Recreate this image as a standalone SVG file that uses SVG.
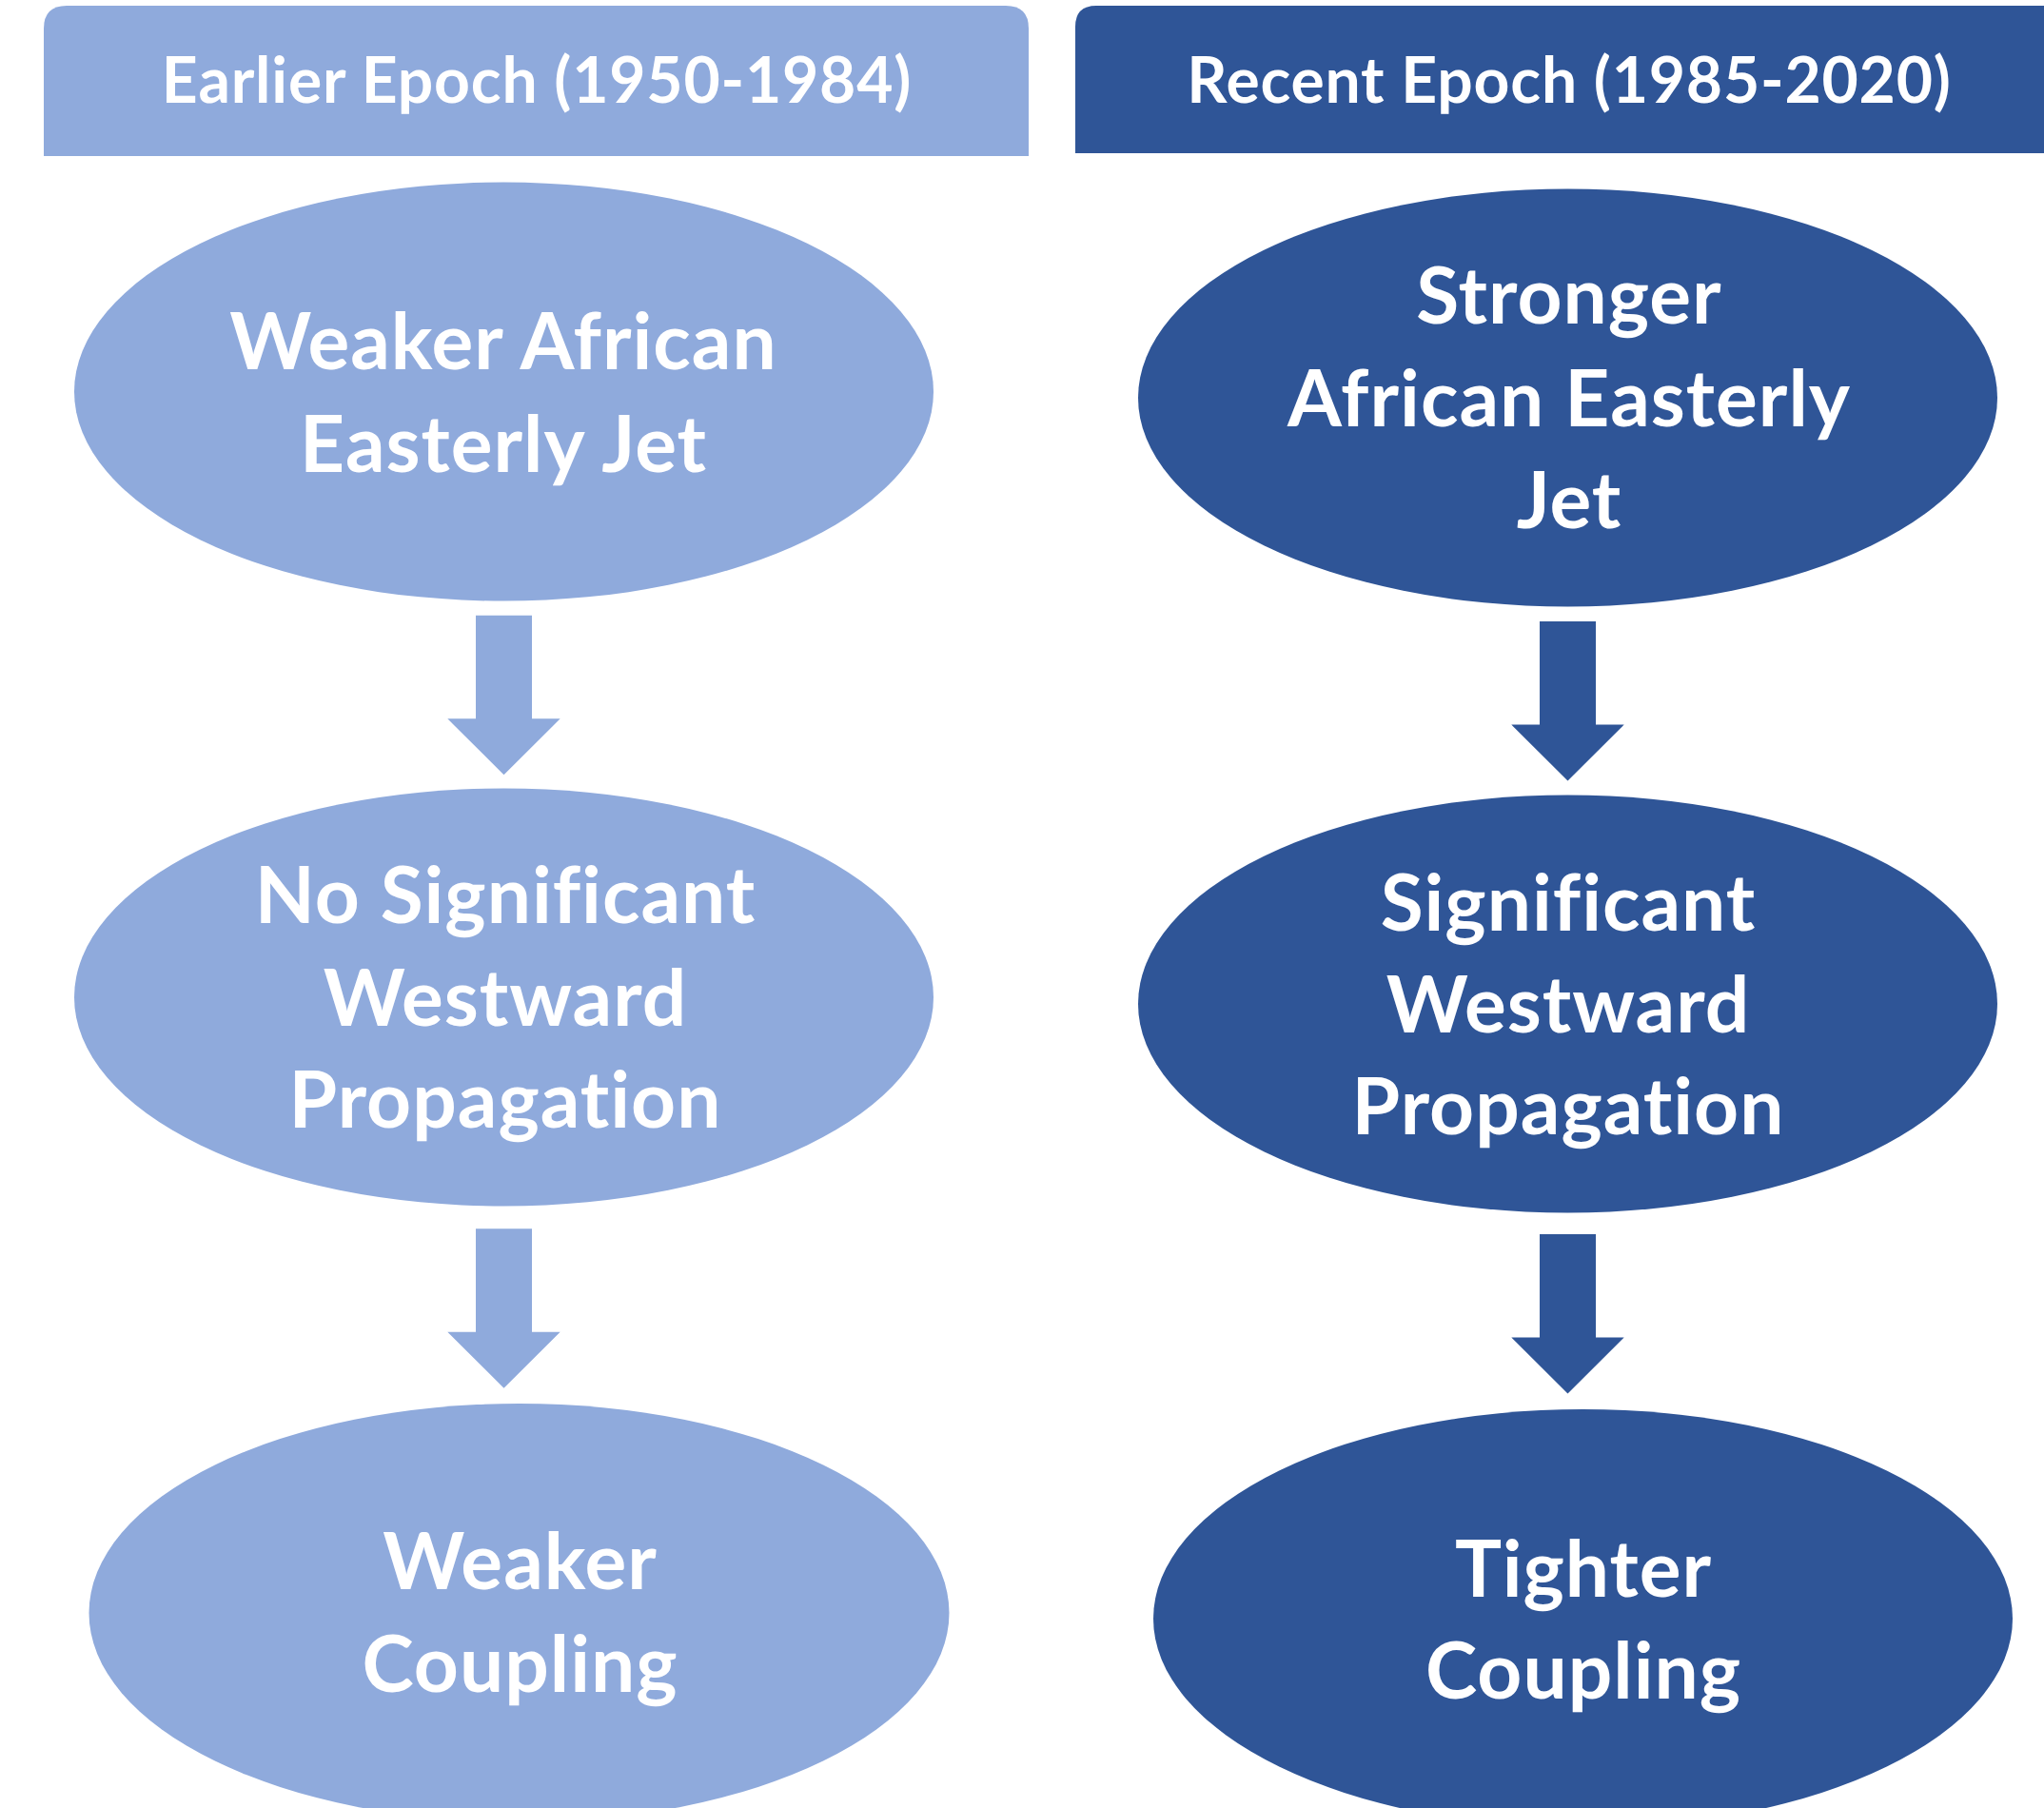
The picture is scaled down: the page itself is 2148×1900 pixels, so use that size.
<svg xmlns="http://www.w3.org/2000/svg" xmlns:xlink="http://www.w3.org/1999/xlink" width="2148" height="1900" viewBox="0 0 2148 1900">
  <style>
    .early { fill: #8FAADC; }
    .recent { fill: #2F5597; }
    text { font-family: Lato, "Liberation Sans", sans-serif; font-weight: 700; fill: #FFFFFF; text-anchor: middle; font-variant-ligatures: none; font-feature-settings: "liga" 0, "dlig" 0; }
    .hdr { font-size: 66px; letter-spacing: 0.8px; }
    .lbl { font-size: 82px; letter-spacing: 1px; }
  </style>
  <defs>
    <!-- block arrow pointing down, origin at the top centre of the shaft -->
    <path id="downArrow" d="M-29.5,0 H29.5 V108.6 H59.2 L0,167.6 L-59.2,108.6 H-29.5 Z"/>
  </defs>
  <rect width="2148" height="1900" fill="#FFFFFF"/>

  <!-- column headers -->
  <g id="header-earlier">
    <path class="early" d="M46,164 V30 Q46,6 70,6 H1057 Q1081,6 1081,30 V164 Z"/>
    <text class="hdr" x="564" y="108">Earlier Epoch (1950-1984)</text>
  </g>
  <g id="header-recent">
    <path class="recent" d="M1130,161 V28 Q1130,6 1152,6 H2170 V161 Z"/>
    <text class="hdr" x="1649" y="108">Recent Epoch (1985-2020)</text>
  </g>

  <!-- connectors -->
  <g id="connectors">
    <use href="#downArrow" class="early" x="529.5" y="646.7"/>
    <use href="#downArrow" class="early" x="529.5" y="1291.2"/>
    <use href="#downArrow" class="recent" x="1647.5" y="653"/>
    <use href="#downArrow" class="recent" x="1647.5" y="1297"/>
  </g>

  <!-- earlier epoch chain -->
  <g id="node-weaker-aej">
    <ellipse class="early" cx="529.5" cy="411.6" rx="451.5" ry="220"/>
    <text class="lbl" x="529" y="388">Weaker African</text>
    <text class="lbl" x="529" y="496">Easterly Jet</text>
  </g>
  <g id="node-no-westward">
    <ellipse class="early" cx="529.5" cy="1048" rx="451.5" ry="219.5"/>
    <text class="lbl" x="531" y="970">No Significant</text>
    <text class="lbl" x="531" y="1077.5">Westward</text>
    <text class="lbl" x="531" y="1185">Propagation</text>
  </g>
  <g id="node-weaker-coupling">
    <ellipse class="early" cx="545.5" cy="1695" rx="452" ry="220"/>
    <text class="lbl" x="546.5" y="1670">Weaker</text>
    <text class="lbl" x="546.5" y="1778">Coupling</text>
  </g>

  <!-- recent epoch chain -->
  <g id="node-stronger-aej">
    <ellipse class="recent" cx="1647.5" cy="418" rx="451.5" ry="219.5"/>
    <text class="lbl" x="1649" y="340">Stronger</text>
    <text class="lbl" x="1649" y="447.5">African Easterly</text>
    <text class="lbl" x="1649" y="555">Jet</text>
  </g>
  <g id="node-westward">
    <ellipse class="recent" cx="1647.5" cy="1055" rx="451.5" ry="219.5"/>
    <text class="lbl" x="1648" y="977.5">Significant</text>
    <text class="lbl" x="1648" y="1084.5">Westward</text>
    <text class="lbl" x="1648" y="1192">Propagation</text>
  </g>
  <g id="node-tighter-coupling">
    <ellipse class="recent" cx="1663.5" cy="1701" rx="451.5" ry="220"/>
    <text class="lbl" x="1664" y="1677.5">Tighter</text>
    <text class="lbl" x="1664" y="1785">Coupling</text>
  </g>
</svg>
